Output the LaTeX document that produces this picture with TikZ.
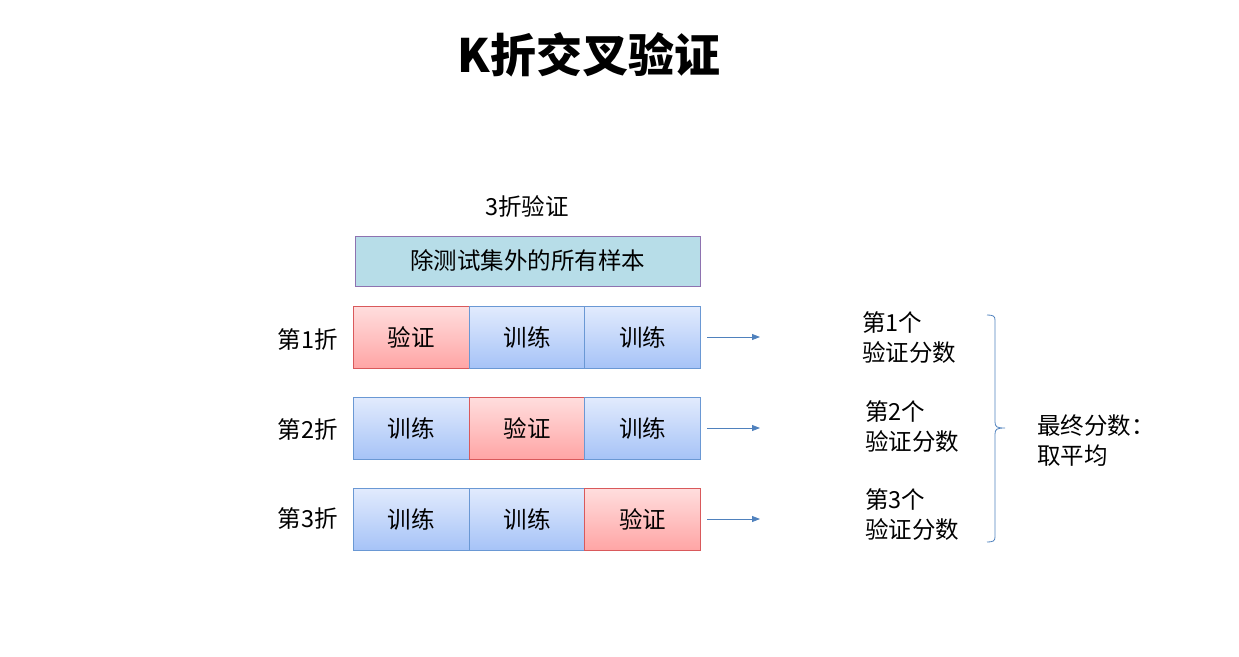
\documentclass[tikz,border=0pt]{standalone}
\usepackage{fontspec}
\setmainfont{Noto Sans CJK SC}
\usetikzlibrary{arrows.meta}
\definecolor{topfill}{HTML}{B7DDE8}
\definecolor{topdraw}{HTML}{8E72B0}
\definecolor{bluetop}{HTML}{E2EBFD}
\definecolor{bluebot}{HTML}{A6C3F7}
\definecolor{bluedraw}{HTML}{6A98D4}
\definecolor{redtop}{HTML}{FFDEDE}
\definecolor{redbot}{HTML}{FFA5A5}
\definecolor{reddraw}{HTML}{D9595B}
\definecolor{arrowc}{HTML}{4F81BD}
\begin{document}
\begin{tikzpicture}[x=1pt,y=-1pt,
  cellbase/.style={minimum width=116pt,minimum height=62pt,inner sep=0pt,font=\fontsize{23.5}{26}\selectfont,line width=1pt},
  train/.style={cellbase,draw=bluedraw,top color=bluetop,bottom color=bluebot},
  valid/.style={cellbase,draw=reddraw,top color=redtop,bottom color=redbot},
  lab/.style={font=\fontsize{23.5}{26}\selectfont,inner sep=0pt},
  score/.style={font=\fontsize{23.5}{30}\selectfont,inner sep=0pt,align=left,anchor=north west},
  arr/.style={draw=arrowc,line width=0.8pt,-{Triangle[length=8pt,width=6pt]}}]
\useasboundingbox (0,0) rectangle (1239,656);
\node[font=\fontsize{46}{50}\selectfont\bfseries,inner sep=0pt] (title) at (589,55) {K折交叉验证};
\node[lab] (three) at (527,206) {3折验证};
\node[draw=topdraw,fill=topfill,line width=1pt,minimum width=345pt,minimum height=50pt,inner sep=0pt,font=\fontsize{23.5}{26}\selectfont] (all) at (527.5,261) {除测试集外的所有样本};
% rows
\node[valid] (a1) at (411,337) {验证};
\node[train] (a2) at (527,337) {训练};
\node[train] (a3) at (642.5,337) {训练};
\node[train] (b1) at (411,428) {训练};
\node[valid] (b2) at (527,428) {验证};
\node[train] (b3) at (642.5,428) {训练};
\node[train] (c1) at (411,519) {训练};
\node[train] (c2) at (527,519) {训练};
\node[valid] (c3) at (642.5,519) {验证};
\node[lab] (f1) at (308,340) {第1折};
\node[lab] (f2) at (308,430) {第2折};
\node[lab] (f3) at (308,519) {第3折};
\coordinate (e1) at (760,337);
\coordinate (e2) at (760,428);
\coordinate (e3) at (760,519);
\draw[arr] ([xshift=6pt]a3.east) -- (e1);
\draw[arr] ([xshift=6pt]b3.east) -- (e2);
\draw[arr] ([xshift=6pt]c3.east) -- (e3);
\node[score] (s1) at (862,311) {第1个\\验证分数};
\node[score] (s2) at (865,400) {第2个\\验证分数};
\node[score] (s3) at (865,488) {第3个\\验证分数};
\draw[arrowc,line width=0.8pt] (987,315) .. controls (993,315) and (995,316) .. (995,320) -- (995,422) .. controls (995,427) and (997,428) .. (1005,428) .. controls (997,428) and (995,429) .. (995,434) -- (995,537) .. controls (995,541) and (993,542) .. (987,542);
\node[score] (fin) at (1037,415) {最终分数：\\取平均};
\end{tikzpicture}
\end{document}
